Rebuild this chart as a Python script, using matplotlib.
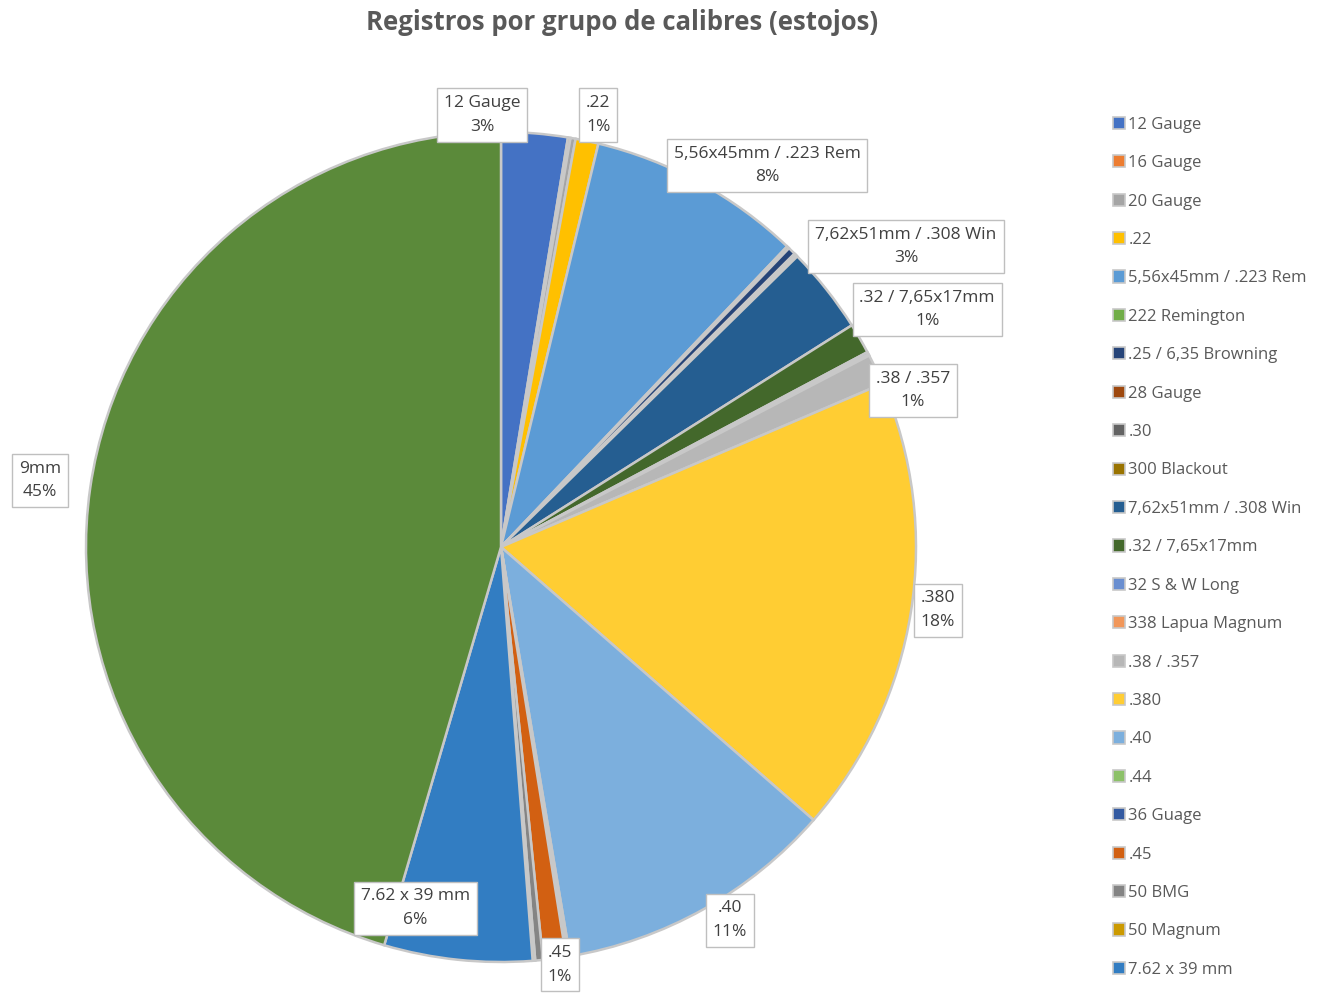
import matplotlib.pyplot as plt

# calibre groups, in the order Excel draws them (clockwise from 12 o'clock)
calibres = ["12 Gauge", "16 Gauge", "20 Gauge", ".22", "5,56x45mm / .223 Rem",
            "222 Remington", ".25 / 6,35 Browning", "28 Gauge", ".30", "300 Blackout",
            "7,62x51mm / .308 Win", ".32 / 7,65x17mm", "32 S & W Long", "338 Lapua Magnum",
            ".38 / .357", ".380", ".40", ".44", "36 Guage", ".45", "50 BMG",
            "50 Magnum", "7.62 x 39 mm", "9mm"]
registros = [26, 1, 2, 9, 84,
             1, 3, 0.5, 0.5, 0.5,
             34, 12, 1, 0.5,
             12, 180, 110, 1, 0.5, 9, 3,
             1, 58, 458]
colores = ["#4472C4", "#ED7D31", "#A5A5A5", "#FFC000", "#5B9BD5",
           "#70AD47", "#264478", "#9E480E", "#636363", "#997300",
           "#255E91", "#43682B", "#698ED0", "#F1975A",
           "#B7B7B7", "#FFCD33", "#7CAFDD", "#8CC168", "#335AA1", "#D26012", "#848484",
           "#CC9A00", "#327DC2", "#5B8A3A"]

# which slices get a data label, and where the label box sits (pie radius = 1)
etiquetas = {
    "12 Gauge": (-0.046, 1.041),
    ".22": (0.234, 1.041),
    "5,56x45mm / .223 Rem": (0.641, 0.920),
    "7,62x51mm / .308 Win": (0.976, 0.725),
    ".32 / 7,65x17mm": (1.027, 0.573),
    ".38 / .357": (0.993, 0.378),
    ".380": (1.053, -0.152),
    ".40": (0.552, -0.899),
    ".45": (0.142, -1.007),
    "7.62 x 39 mm": (-0.207, -0.870),
    "9mm": (-1.111, 0.161),
}

plt.rcParams['font.family'] = ['Open Sans', 'DejaVu Sans']
W, H = 1324, 994
fig = plt.figure(figsize=(W / 100, H / 100), dpi=100)

# pie centre (501, 547) px, radius 415 px
cx, cy, r = 501, 547, 415
ax = fig.add_axes([(cx - r) / W, (H - cy - r) / H, 2 * r / W, 2 * r / H])
wedges, _ = ax.pie(registros, colors=colores, startangle=90, counterclock=False,
                   radius=1, wedgeprops=dict(edgecolor="#C8C8C8", linewidth=1.8))
ax.set_xlim(-1, 1)
ax.set_ylim(-1, 1)
ax.set_aspect("equal")
ax.axis("off")

total = sum(registros)
for nombre, (x, y) in etiquetas.items():
    i = calibres.index(nombre)
    pct = round(registros[i] / total * 100)
    ax.text(x, y, f"{nombre}\n{pct}%", ha="center", va="center", fontsize=12.5,
            color="#404040", linespacing=1.6, clip_on=False,
            bbox=dict(boxstyle="square,pad=0.4", fc="white", ec="#BFBFBF", lw=1))

fig.text(622 / W, 1 - 22 / H, "Registros por grupo de calibres (estojos)",
         ha="center", va="center", fontsize=18.5, fontweight="bold", color="#595959")

# legend (9mm does not fit in Excel's legend box)
handles = wedges[:23]
leg = fig.legend(handles, calibres[:23], loc="upper left",
                 bbox_to_anchor=(1106 / W, 1 - 110 / H), frameon=False,
                 fontsize=12, labelcolor="#595959", handlelength=0.75, handleheight=0.75,
                 handletextpad=0.2, labelspacing=1.345, borderaxespad=0)
for h in leg.legend_handles:
    h.set_edgecolor("#C8C8C8")
    h.set_linewidth(1.2)

fig.savefig("out.png", dpi=100)
